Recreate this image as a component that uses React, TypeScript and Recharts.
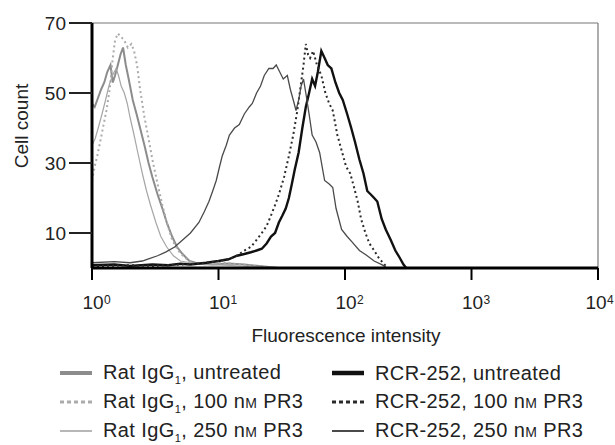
import { LineChart, Line, XAxis, YAxis, ReferenceLine } from "recharts";

// flow cytometry histograms, [fluorescence, cell count]
const ratUntreated: [number, number][] = [
  [1, 47], [1.05, 46], [1.1, 48], [1.18, 51], [1.25, 53], [1.32, 56], [1.4, 58], [1.46, 53], [1.52, 55],
  [1.6, 58], [1.68, 61], [1.76, 63], [1.85, 58], [1.95, 54], [2.1, 48], [2.25, 44], [2.4, 40], [2.6, 35],
  [2.8, 30], [3.0, 26], [3.3, 21], [3.6, 17], [3.9, 13], [4.3, 9], [4.7, 6], [5.2, 4], [5.9, 2], [7, 1.2],
  [9, 1], [12, 1.3], [16, 1], [22, 0.5], [30, 0],
];
const ratPr3100: [number, number][] = [
  [1, 25], [1.05, 29], [1.1, 32], [1.16, 36], [1.22, 40], [1.3, 45], [1.38, 51], [1.45, 59], [1.52, 65],
  [1.6, 67], [1.7, 66], [1.8, 65], [1.92, 63], [2.05, 64], [2.15, 62], [2.27, 58], [2.4, 51], [2.6, 43],
  [2.8, 37], [3.0, 31], [3.3, 24], [3.6, 18], [3.9, 13], [4.3, 8], [4.8, 5], [5.4, 3], [6.2, 1.5], [8, 1],
  [11, 1.5], [15, 1], [20, 0.5], [28, 0],
];
const ratPr3250: [number, number][] = [
  [1, 35], [1.06, 37], [1.12, 40], [1.2, 44], [1.28, 48], [1.36, 52], [1.45, 55], [1.55, 57], [1.62, 55],
  [1.7, 52], [1.8, 50], [1.9, 47], [2.0, 43], [2.15, 38], [2.3, 33], [2.5, 27], [2.7, 22], [2.9, 18],
  [3.2, 13], [3.5, 9], [3.9, 6], [4.4, 3.5], [5.0, 2], [6, 1.5], [8, 1], [11, 0.8], [16, 0.5], [22, 0],
];
const rcrUntreated: [number, number][] = [
  [1, 0.8], [1.5, 1], [2, 0.6], [3, 1], [4, 0.8], [5, 1.2], [6, 1], [8, 1.5], [10, 2], [12, 2.5], [14, 3.5],
  [16, 4], [18, 4.5], [20, 5], [22, 5.5], [24, 7], [26, 9], [28, 10], [30, 13], [32, 15], [34, 17], [36, 20],
  [38, 24], [40, 28], [43, 33], [46, 40], [49, 46], [52, 50], [55, 54], [58, 52], [61, 56], [65, 62], [69, 60],
  [73, 58], [78, 57], [84, 53], [90, 50], [96, 48], [104, 44], [112, 40], [120, 36], [130, 31], [140, 27],
  [150, 22], [160, 21], [170, 20], [180, 19], [195, 14], [210, 11], [230, 8], [250, 5], [270, 3], [290, 1],
  [305, 0],
];
const rcrPr3100: [number, number][] = [
  [1, 0.5], [2, 0.8], [3, 0.6], [5, 1], [7, 1.2], [10, 2], [12, 2.5], [14, 3.5], [16, 5], [18, 6], [20, 8],
  [22, 10], [24, 12], [26, 15], [28, 18], [30, 21], [33, 26], [36, 32], [39, 38], [42, 45], [45, 53], [47, 58],
  [49, 64], [51, 61], [53, 60], [56, 62], [60, 58], [65, 55], [70, 50], [75, 47], [80, 45], [87, 38], [95, 33],
  [102, 29], [110, 27], [118, 23], [126, 19], [134, 14], [145, 10], [156, 7], [170, 5], [187, 2.6], [200, 1.5],
  [216, 0],
];
const rcrPr3250: [number, number][] = [
  [1, 1.5], [1.5, 1.8], [2, 1.5], [2.5, 2], [2.8, 2.6], [3.3, 3.5], [3.85, 4.6], [4.5, 6], [5.2, 8], [6, 10],
  [7, 13], [7.7, 16], [8.4, 19], [9, 22], [9.6, 25], [10.2, 29], [10.7, 32], [11.5, 35], [12.2, 38], [13.4, 40],
  [14.6, 41], [16, 44], [17.5, 46], [18.5, 47], [20, 50], [21.5, 52], [23, 55], [25, 57], [27, 57], [28.6, 58],
  [30.5, 56], [32.5, 54], [35, 55], [37, 51], [39, 48], [41, 45], [43, 48], [45, 52], [47, 54], [49, 50],
  [52, 44], [55, 38], [59, 36], [63, 33], [69, 25], [75, 24], [80, 23], [85, 17], [94, 11], [104, 9],
  [114, 7.4], [130, 5], [147, 3.7], [170, 2], [197, 0.9], [215, 0],
];

const xTicks = [1, 10, 100, 1000, 10000];
const yTicks = [10, 30, 50, 70];

const series = [
  { name: "Rat IgG", sub: "1", tail: ", untreated", pts: ratUntreated, color: "#8c8c8c", width: 2, dash: undefined, legendW: 4 },
  { name: "Rat IgG", sub: "1", tail: ", 100 ", pr3: true, pts: ratPr3100, color: "#ababab", width: 2, dash: "2 3", legendW: 3 },
  { name: "Rat IgG", sub: "1", tail: ", 250 ", pr3: true, pts: ratPr3250, color: "#a6a6a6", width: 1.2, dash: undefined, legendW: 1.6 },
  { name: "RCR-252", sub: "", tail: ", untreated", pts: rcrUntreated, color: "#111111", width: 2.4, dash: undefined, legendW: 4.5 },
  { name: "RCR-252", sub: "", tail: ", 100 ", pr3: true, pts: rcrPr3100, color: "#2a2a2a", width: 2, dash: "2 3", legendW: 3 },
  { name: "RCR-252", sub: "", tail: ", 250 ", pr3: true, pts: rcrPr3250, color: "#4a4a4a", width: 1.3, dash: undefined, legendW: 2 },
];

const font = "'Liberation Sans', Arial, sans-serif";

const LogTick = (props: any) => {
  const { x, y, payload } = props;
  const exp = Math.round(Math.log10(payload.value));
  return (
    <g fontFamily={font} fill="#222">
      <text x={x + 1} y={y + 29} textAnchor="middle" fontSize={19}>10</text>
      <text x={x + 12} y={y + 24} textAnchor="start" fontSize={12}>{exp}</text>
    </g>
  );
};

const CellLabel = () => (
  <text x={21} y={126} transform="rotate(-90 21 126)" textAnchor="middle" dominantBaseline="central" fontSize={19} fill="#222" fontFamily={font}>
    Cell count
  </text>
);

const LegendItem = ({ s, left, top }: { s: any; left: number; top: number }) => (
  <div style={{ position: "absolute", left, top, height: 24, lineHeight: "24px", display: "flex", alignItems: "center", whiteSpace: "nowrap" }}>
    <svg width={32} height={10} style={{ marginRight: 11 }}>
      <line x1={0} y1={5} x2={32} y2={5} stroke={s.color} strokeWidth={s.legendW} strokeDasharray={s.dash ? "4 3" : undefined} />
    </svg>
    <span style={{ letterSpacing: 0.4 }}>
      {s.name}
      {s.sub && <span style={{ fontSize: 11, position: "relative", top: 5 }}>{s.sub}</span>}
      {s.tail}
      {s.pr3 && (
        <>
          n<span style={{ fontSize: 14 }}>M</span> PR3
        </>
      )}
    </span>
  </div>
);

export default function App() {
  return (
    <div style={{ position: "absolute", left: 0, top: 0, width: 615, height: 445, background: "#fff", fontFamily: font, fontSize: 20, color: "#222" }}>
      <LineChart width={615} height={445} margin={{ top: 23, right: 17, left: 0, bottom: 0 }}>
        <XAxis
          type="number"
          dataKey="x"
          scale="log"
          domain={[1, 10000]}
          ticks={xTicks}
          allowDataOverflow
          height={177}
          tickSize={12}
          tickMargin={0}
          tick={<LogTick />}
          axisLine={{ stroke: "#000", strokeWidth: 3 }}
          tickLine={{ stroke: "#000", strokeWidth: 2 }}
        />
        <YAxis
          type="number"
          domain={[0, 70]}
          ticks={yTicks}
          width={92}
          tickSize={23}
          tickMargin={3}
          tick={{ fill: "#222", fontSize: 19, fontFamily: font }}
          axisLine={{ stroke: "#000", strokeWidth: 3 }}
          tickLine={{ stroke: "#222", strokeWidth: 2 }}
          label={<CellLabel />}
        />
        <ReferenceLine y={70} stroke="#777" strokeWidth={1.2} />
        <ReferenceLine x={10000} stroke="#777" strokeWidth={1.2} />
        {series.map((s, i) => (
          <Line
            key={i}
            data={s.pts.map(([x, y]) => ({ x, y }))}
            dataKey="y"
            type="linear"
            stroke={s.color}
            strokeWidth={s.width}
            strokeDasharray={s.dash}
            dot={false}
            activeDot={false}
            isAnimationActive={false}
          />
        ))}
      </LineChart>
      <div style={{ position: "absolute", left: 250, width: 192, top: 325, fontSize: 19, lineHeight: "22px", textAlign: "center", whiteSpace: "nowrap" }}>
        Fluorescence intensity
      </div>
      {series.slice(0, 3).map((s, i) => (
        <LegendItem key={i} s={s} left={60} top={361 + i * 29} />
      ))}
      {series.slice(3).map((s, i) => (
        <LegendItem key={i} s={s} left={332} top={361 + i * 29} />
      ))}
    </div>
  );
}
